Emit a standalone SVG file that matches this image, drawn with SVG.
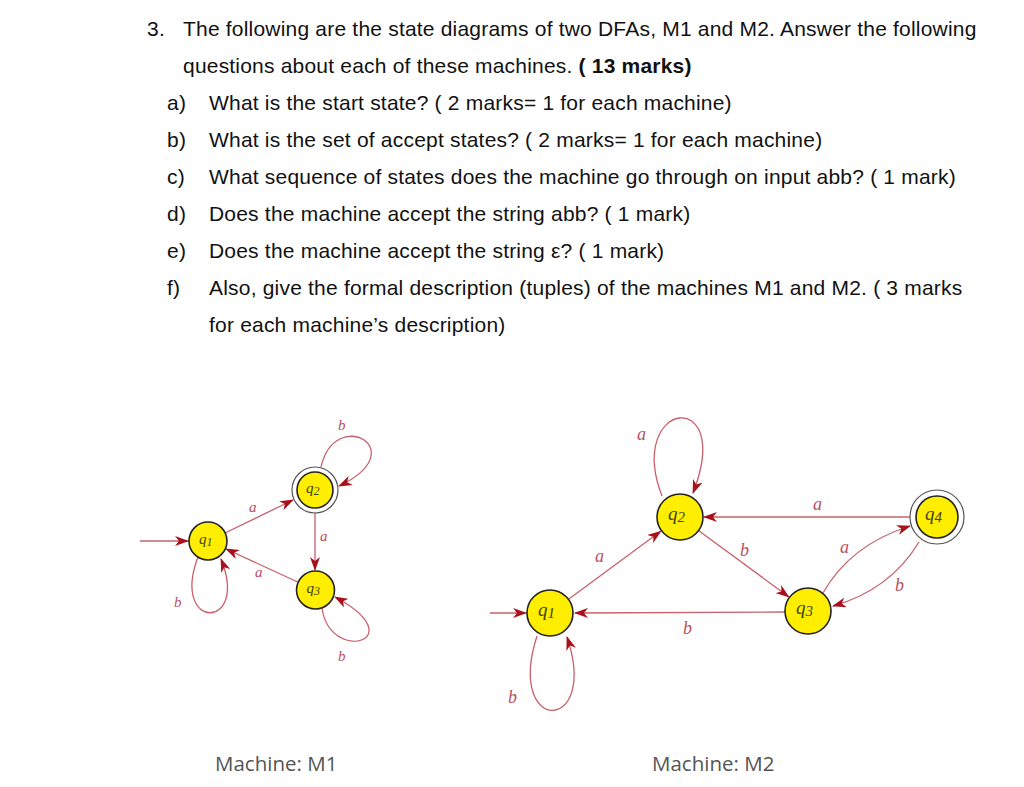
<svg xmlns="http://www.w3.org/2000/svg" width="1024" height="787" viewBox="0 0 1024 787">
<defs>
<marker id="ah" markerUnits="userSpaceOnUse" markerWidth="14" markerHeight="10" viewBox="0 0 14 10" refX="13" refY="5" orient="auto">
<path d="M0,0 L14,5 L0,10 L4,5 z" fill="#a8101c"/>
</marker>
<style>
.q{font-family:"Liberation Sans",Arial,sans-serif;font-size:21px;letter-spacing:0.2px;fill:#111}
.qb{font-weight:bold}
.e{fill:none;stroke:#c9606a;stroke-width:1.3}
.ea{fill:none;stroke:#c9606a;stroke-width:1.3;marker-end:url(#ah)}
.st{fill:#ffee00;stroke:#222;stroke-width:1.6}
.ring{fill:#fff;stroke:#555;stroke-width:1.2}
.lab1{font-family:"Liberation Serif",serif;font-style:italic;font-size:15px;fill:#b8505e}
.lab2{font-family:"Liberation Serif",serif;font-style:italic;font-size:18px;fill:#b8505e}
.sl1{font-family:"Liberation Serif",serif;font-style:italic;font-size:15px;fill:#3f3f18}
.sl2{font-family:"Liberation Serif",serif;font-style:italic;font-size:19px;fill:#3f3f18}
.cap{font-family:"Open Sans","Noto Sans",sans-serif;font-size:20.5px;fill:#555}
</style>
</defs>
<rect width="1024" height="787" fill="#fff"/>

<g id="question">
<text class="q" x="147" y="36">3.</text>
<text class="q" x="183" y="36">The following are the state diagrams of two DFAs, M1 and M2. Answer the following</text>
<text class="q" x="183" y="73">questions about each of these machines. <tspan class="qb">( 13 marks)</tspan></text>
<text class="q" x="167" y="110">a)</text>
<text class="q" x="209" y="110">What is the start state? ( 2 marks= 1 for each machine)</text>
<text class="q" x="167" y="147">b)</text>
<text class="q" x="209" y="147">What is the set of accept states? ( 2 marks= 1 for each machine)</text>
<text class="q" x="167" y="184">c)</text>
<text class="q" x="209" y="184">What sequence of states does the machine go through on input abb? ( 1 mark)</text>
<text class="q" x="167" y="221">d)</text>
<text class="q" x="209" y="221">Does the machine accept the string abb? ( 1 mark)</text>
<text class="q" x="167" y="258">e)</text>
<text class="q" x="209" y="258">Does the machine accept the string ε? ( 1 mark)</text>
<text class="q" x="167" y="295">f)</text>
<text class="q" x="209" y="295">Also, give the formal description (tuples) of the machines M1 and M2. ( 3 marks</text>
<text class="q" x="209" y="332">for each machine’s description)</text>
</g>

<g id="connectors">
<!-- M1 -->
<line class="ea" x1="140" y1="541" x2="188" y2="541"/>
<line class="ea" x1="225" y1="533" x2="293" y2="500"/>
<line class="ea" x1="315" y1="513" x2="315" y2="570"/>
<line class="ea" x1="297.7" y1="582" x2="226" y2="549"/>
<path class="ea" d="M198,557 C170,631 250,631 221,559"/>
<path class="ea" d="M321,467 C335,405 415,450 339,486"/>
<path class="ea" d="M322,608 C330,665 415,640 335,597"/>
<text class="lab1" x="249" y="512">a</text>
<text class="lab1" x="338" y="430">b</text>
<text class="lab1" x="320" y="541">a</text>
<text class="lab1" x="255" y="577">a</text>
<text class="lab1" x="174" y="607">b</text>
<text class="lab1" x="338" y="661">b</text>
<!-- M2 -->
<line class="ea" x1="490" y1="613" x2="526" y2="613"/>
<line class="ea" x1="568.5" y1="599.3" x2="660.7" y2="531.3"/>
<path class="ea" d="M662,496 C625,400 735,385 693,493"/>
<line class="ea" x1="910" y1="517" x2="704" y2="517"/>
<line class="ea" x1="698.5" y1="530.6" x2="788.7" y2="596.8"/>
<line class="ea" x1="785" y1="612" x2="575" y2="613"/>
<path class="ea" d="M823,593 Q850,545 910,526"/>
<path class="ea" d="M919,542 Q890,590 833,606"/>
<path class="ea" d="M537,636 C505,735 600,735 567,637"/>
<text class="lab2" x="637" y="440">a</text>
<text class="lab2" x="595" y="562">a</text>
<text class="lab2" x="813" y="510">a</text>
<text class="lab2" x="740" y="556">b</text>
<text class="lab2" x="840" y="553">a</text>
<text class="lab2" x="895" y="591">b</text>
<text class="lab2" x="683" y="634">b</text>
<text class="lab2" x="508" y="703">b</text>
</g>

<g id="m1-q1">
<circle class="st" cx="208" cy="541" r="19"/>
<text class="sl1" x="199" y="544">q<tspan font-size="12" dy="2">1</tspan></text>
</g>
<g id="m1-q2">
<circle class="ring" cx="315" cy="490" r="23"/>
<circle class="st" cx="315" cy="490" r="18"/>
<text class="sl1" x="306" y="493">q<tspan font-size="12" dy="2">2</tspan></text>
</g>
<g id="m1-q3">
<circle class="st" cx="315.5" cy="590" r="19"/>
<text class="sl1" x="306.5" y="593">q<tspan font-size="12" dy="2">3</tspan></text>
</g>

<g id="m2-q1">
<circle class="st" cx="550" cy="613" r="23"/>
<text class="sl2" x="538" y="616">q<tspan font-size="15" dy="2">1</tspan></text>
</g>
<g id="m2-q2">
<circle class="st" cx="680" cy="517" r="23"/>
<text class="sl2" x="668" y="520">q<tspan font-size="15" dy="2">2</tspan></text>
</g>
<g id="m2-q3">
<circle class="st" cx="808" cy="611" r="23"/>
<text class="sl2" x="796" y="614">q<tspan font-size="15" dy="2">3</tspan></text>
</g>
<g id="m2-q4">
<circle class="ring" cx="937" cy="517" r="27"/>
<circle class="st" cx="937" cy="517" r="21"/>
<text class="sl2" x="925" y="520">q<tspan font-size="15" dy="2">4</tspan></text>
</g>

<g id="captions">
<text class="cap" x="215" y="771">Machine: M1</text>
<text class="cap" x="652" y="771">Machine: M2</text>
</g>
</svg>
